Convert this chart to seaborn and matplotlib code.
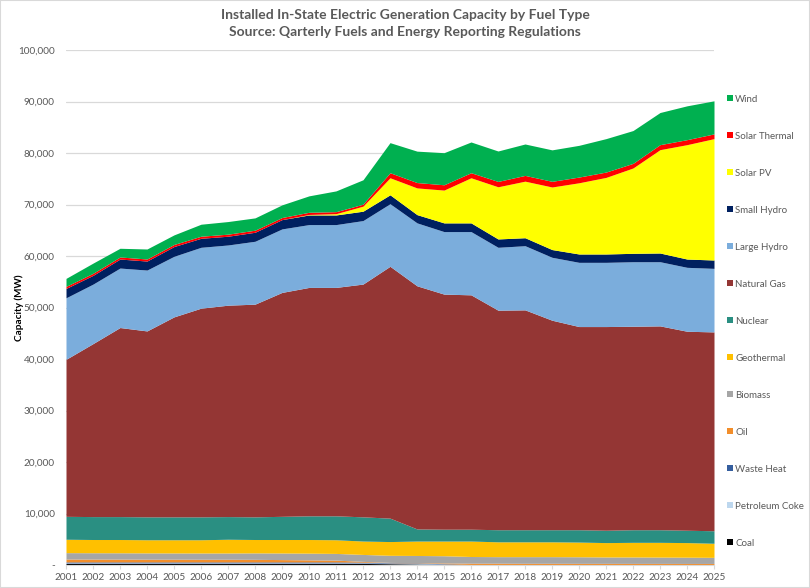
import numpy as np
import pandas as pd
import matplotlib
matplotlib.use('Agg')
import matplotlib.pyplot as plt
from matplotlib.lines import Line2D
from matplotlib.patches import Rectangle
import matplotlib.ticker as mticker
import seaborn as sns

years = list(range(2001, 2026))

# capacity (MW) by fuel
coal = [300]*12 + [250, 200, 50] + [0]*10
petroleum_coke = [100]*15 + [0]*10
waste_heat = [200]*11 + [150, 100, 100, 100] + [100]*10
oil = [560, 550, 550, 530, 530, 520, 520, 500, 450, 400, 350, 150, 50,
       50, 150, 250, 250, 230, 230, 220, 220, 210, 210, 200, 200]
biomass = [1240, 1230, 1220, 1220, 1210, 1210, 1210, 1250, 1280, 1300, 1300, 1350, 1380,
           1400, 1400, 1300, 1270, 1290, 1290, 1280, 1240, 1250, 1230, 1220, 1190]
geothermal = [2600, 2570, 2580, 2550, 2560, 2570, 2670, 2600, 2620, 2650, 2650, 2600, 2670,
              2800, 2850, 3000, 2880, 2880, 2880, 2850, 2790, 2840, 2860, 2830, 2730]
nuclear = [4450, 4450, 4450, 4450, 4450, 4450, 4400, 4400, 4500, 4600, 4650, 4700, 4550,
           2350, 2300, 2300, 2350, 2350, 2350, 2400, 2400, 2450, 2450, 2400, 2430]
natural_gas = [30480, 33590, 36710, 36100, 38830, 40520, 41050, 41300, 43480, 44350, 44350, 45200, 48900,
               47210, 45650, 45510, 42630, 42690, 40680, 39450, 39550, 39510, 39580, 38640, 38610]
large_hydro = [11950, 11550, 11550, 11820, 11760, 11820, 11690, 12210, 12330, 12200, 12200, 12330, 12150,
               12220, 12140, 12280, 12210, 12460, 12220, 12470, 12470, 12530, 12460, 12410, 12340]
small_hydro = [1820, 1700, 1750, 1750, 1900, 1750, 1700, 1750, 1810, 1870, 1870, 1820, 1730,
               1600, 1690, 1690, 1620, 1550, 1500, 1620, 1620, 1630, 1690, 1610, 1620]
solar_pv = [0]*9 + [100, 250, 980, 3310,
                    5190, 6370, 8760, 10130, 10980, 12150, 13830, 14870, 16570, 20070, 22210, 23570]
solar_thermal = [400]*9 + [420, 390, 380, 980,
                           1040, 1030, 980, 1040, 1120, 1100, 1110, 1040, 900, 970, 970, 920]
wind = [1550, 1980, 1690, 1940, 1860, 2330, 2450, 2390, 2460, 3190, 4030, 4740, 5840,
        6100, 6230, 5970, 5910, 6100, 6110, 6160, 6490, 6370, 6240, 6570, 6420]

fuels = ['Wind', 'Solar Thermal', 'Solar PV', 'Small Hydro', 'Large Hydro', 'Natural Gas',
         'Nuclear', 'Geothermal', 'Biomass', 'Oil', 'Waste Heat', 'Petroleum Coke', 'Coal']
series = [wind, solar_thermal, solar_pv, small_hydro, large_hydro, natural_gas,
          nuclear, geothermal, biomass, oil, waste_heat, petroleum_coke, coal]
colors = ['#00B050', '#FF0000', '#FFFF00', '#002060', '#7BADDC', '#943634',
          '#2A8F82', '#FFC000', '#A6A6A6', '#F28E2B', '#355E9E', '#BDD7EE', '#000000']

rows = []
for f, vals in zip(fuels, series):
    for y, v in zip(years, vals):
        rows.append({'Year': y, 'Fuel': f, 'MW': v})
df = pd.DataFrame(rows)

sns.set_style('white')
plt.rcParams['font.family'] = ['Lato', 'DejaVu Sans']

fig = plt.figure(figsize=(8.1, 5.88), dpi=100)
ax = fig.add_axes([66/810, 1-565/588, (714-66)/810, (565-50)/588])

# first hue level ends up on top of the stack
sns.histplot(data=df, x='Year', weights='MW', hue='Fuel', hue_order=fuels,
             palette=colors, multiple='stack', element='poly', discrete=True,
             alpha=1, linewidth=0, legend=False, ax=ax)

ax.set_xlim(2001, 2025)
ax.set_ylim(0, 100000)
ax.set_xticks(years)
ax.set_xticklabels([str(y) for y in years])
ax.yaxis.set_major_locator(mticker.MultipleLocator(10000))
ax.yaxis.set_major_formatter(mticker.FuncFormatter(lambda v, p: '-' if v == 0 else f'{v:,.0f}'))
ax.grid(axis='y', color='#D9D9D9', lw=0.9)
ax.set_axisbelow(True)
for s in ['top', 'right', 'left']:
    ax.spines[s].set_visible(False)
ax.spines['bottom'].set_color('#D9D9D9')
ax.tick_params(axis='x', colors='#D9D9D9', labelcolor='#595959', labelsize=7.2,
               length=3, direction='out', bottom=True, pad=3)
ax.tick_params(axis='y', labelcolor='#595959', labelsize=7.2, length=0, pad=8)
ax.set_xlabel('')
ax.set_ylabel('Capacity (MW)', fontsize=7.2, fontweight='bold', color='black')
ax.yaxis.set_label_coords((24-66)/648, 0.5)

fig.text(0.5, 1-15/588, 'Installed In-State Electric Generation Capacity by Fuel Type',
         ha='center', va='center', fontsize=10, fontweight='bold', color='#595959')
fig.text(0.5, 1-32/588, 'Source: Qarterly Fuels and Energy Reporting Regulations',
         ha='center', va='center', fontsize=10, fontweight='bold', color='#595959')

handles = [Line2D([], [], marker='s', ls='', markersize=5, markerfacecolor=c,
                  markeredgewidth=0, label=f) for f, c in zip(fuels, colors)]
leg = fig.legend(handles=handles, loc='upper left', bbox_to_anchor=(722/810, 1-91/588),
                 frameon=False, fontsize=7, labelspacing=2.88, handletextpad=0.15,
                 handlelength=0.8, borderaxespad=0)
for t in leg.get_texts():
    t.set_color('#595959')

fig.add_artist(Rectangle((0, 0), 1, 1, transform=fig.transFigure, fill=False,
                         edgecolor='#D9D9D9', lw=1.5))

fig.savefig('out.png', dpi=100)
